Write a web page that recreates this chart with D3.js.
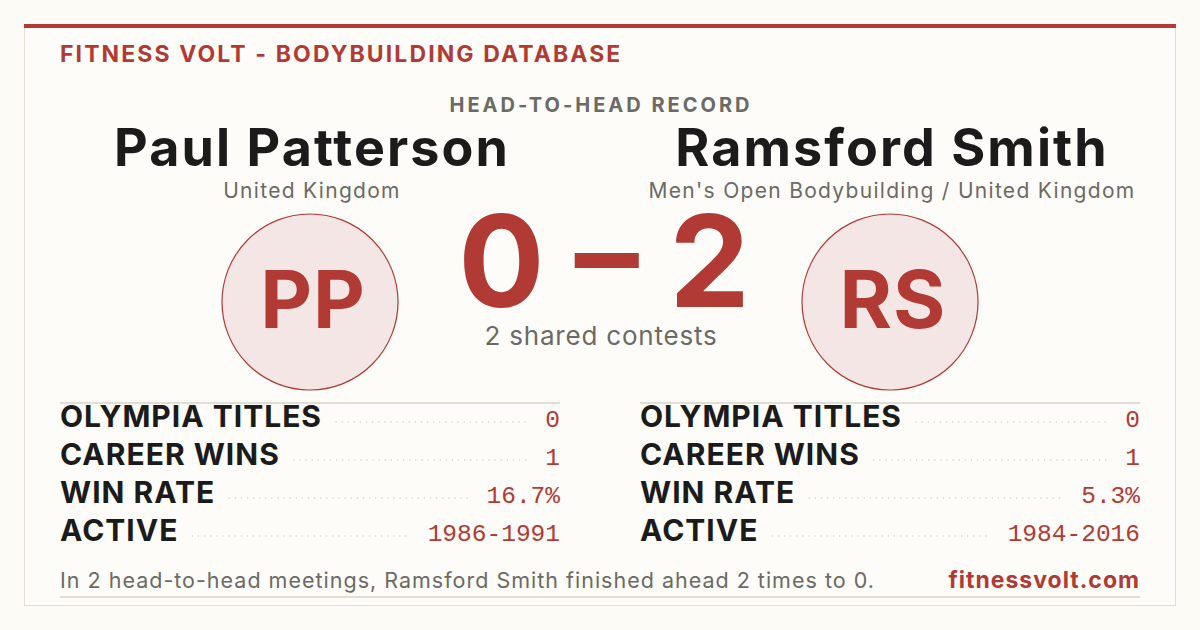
<!DOCTYPE html>
<html>
<head>
<meta charset="utf-8">
<script src="https://cdn.jsdelivr.net/npm/d3@7"></script>
<style>
  html, body { margin: 0; padding: 0; background: #fcfbf6; }
  svg { display: block; }
</style>
</head>
<body>
<div id="card"></div>
<script>
// ---- data ----
const players      = ["Paul Patterson", "Ramsford Smith"]
const initials     = ["PP", "RS"]
const subtitles    = ["United Kingdom", "Men's Open Bodybuilding / United Kingdom"]
const score        = [0, 2]
const sharedCount  = 2
const statLabels   = ["OLYMPIA TITLES", "CAREER WINS", "WIN RATE", "ACTIVE"]
const statsLeft    = ["0", "1", "16.7%", "1986-1991"]
const statsRight   = ["0", "1", "5.3%", "1984-2016"]
const footerText   = "In 2 head-to-head meetings, Ramsford Smith finished ahead 2 times to 0."

function headToHead({
    element,
    width = 1200,
    height = 630,
    red = "#b23a35",
    ink = "#1b1b1b",
    grey = "#6b6a65",
    rule = "#e3ded4",
    sans = "Inter, 'DejaVu Sans', sans-serif",
    mono = "'Liberation Mono', 'DejaVu Sans Mono', monospace"
}) {

    const svg = d3.select(`#${element}`)
        .html(null)
        .append("svg")
        .attr("width", width)
        .attr("height", height)

    svg.append("rect")
        .attr("width", width).attr("height", height)
        .attr("fill", "#fcfbf6")

    // card frame
    svg.append("rect")
        .attr("x", 24.5).attr("y", 24.5)
        .attr("width", 1151).attr("height", 581)
        .attr("fill", "#fdfcf8")
        .attr("stroke", rule)
    svg.append("rect")
        .attr("x", 24).attr("y", 24)
        .attr("width", 1152).attr("height", 4)
        .attr("fill", red)

    svg.append("text")
        .attr("x", 60).attr("y", 62)
        .attr("font-family", sans).attr("font-weight", 700)
        .attr("font-size", 23).attr("letter-spacing", 2.1)
        .attr("fill", red)
        .text("FITNESS VOLT - BODYBUILDING DATABASE")

    svg.append("text")
        .attr("x", 601).attr("y", 112)
        .attr("text-anchor", "middle")
        .attr("font-family", sans).attr("font-weight", 700)
        .attr("font-size", 20).attr("letter-spacing", 3)
        .attr("fill", grey)
        .text("HEAD-TO-HEAD RECORD")

    // two sides: left and right column centers
    const side = d3.scalePoint()
        .domain([0, 1])
        .range([312, 892])

    const names = svg.append("g")
        .selectAll("g")
        .data(players)
        .join("g")
        .attr("transform", (d, i) => `translate(${side(i)},0)`)
        .attr("text-anchor", "middle")
        .attr("font-family", sans)

    names.append("text")
        .attr("y", 165.5)
        .attr("font-weight", 700)
        .attr("font-size", 52)
        .attr("letter-spacing", 2.1)
        .attr("fill", ink)
        .text(d => d)

    names.append("text")
        .attr("y", 198)
        .attr("font-size", 21)
        .attr("letter-spacing", 1.3)
        .attr("fill", grey)
        .text((d, i) => subtitles[i])

    // avatar circles
    const avatarX = d3.scalePoint().domain([0, 1]).range([310, 890])
    const avatar = svg.append("g")
        .selectAll("g")
        .data(initials)
        .join("g")
        .attr("transform", (d, i) => `translate(${avatarX(i)},302)`)

    avatar.append("circle")
        .attr("r", 88)
        .attr("fill", "#f3e6e5")
        .attr("stroke", red)
        .attr("stroke-width", 1.2)

    avatar.append("text")
        .attr("x", 3)
        .attr("y", 26)
        .attr("text-anchor", "middle")
        .attr("font-family", sans).attr("font-weight", 700)
        .attr("font-size", 80)
        .attr("letter-spacing", 1)
        .attr("fill", red)
        .text(d => d)

    // score
    svg.append("text")
        .attr("x", 604).attr("y", 307)
        .attr("text-anchor", "middle")
        .attr("font-family", sans).attr("font-weight", 700)
        .attr("font-size", 128)
        .attr("fill", red)
        .text(`${score[0]} \u2013 ${score[1]}`)

    svg.append("text")
        .attr("x", 601).attr("y", 345)
        .attr("text-anchor", "middle")
        .attr("font-family", sans)
        .attr("font-size", 26)
        .attr("letter-spacing", 0.8)
        .attr("fill", grey)
        .text(`${sharedCount} shared contests`)

    // stat tables
    const row = d3.scaleBand()
        .domain(statLabels)
        .range([404, 556])

    const panels = [
        { x0: 60, x1: 560, values: statsLeft },
        { x0: 640, x1: 1140, values: statsRight }
    ]

    panels.forEach(p => {
        const g = svg.append("g")

        g.append("line")
            .attr("x1", p.x0).attr("x2", p.x1)
            .attr("y1", 403).attr("y2", 403)
            .attr("stroke", rule).attr("stroke-width", 2)

        const rows = g.selectAll("g")
            .data(statLabels)
            .join("g")
            .attr("transform", d => `translate(0,${row(d) + 23})`)

        const labels = rows.append("text")
            .attr("x", p.x0)
            .attr("font-family", sans).attr("font-weight", 700)
            .attr("font-size", 30).attr("letter-spacing", 1)
            .attr("fill", ink)
            .text(d => d)

        const vals = rows.append("text")
            .attr("x", p.x1)
            .attr("text-anchor", "end")
            .attr("font-family", mono)
            .attr("font-size", 24.5)
            .style("font-feature-settings", "'zero' 1")
            .attr("fill", red)
            .text((d, i) => p.values[i])

        // dotted leaders between label and value
        rows.each(function (d, i) {
            const lw = labels.nodes()[i].getComputedTextLength()
            const vw = vals.nodes()[i].getComputedTextLength()
            d3.select(this).insert("line", "text")
                .attr("x1", p.x0 + lw + 14)
                .attr("x2", p.x1 - vw - 18)
                .attr("y1", -5).attr("y2", -5)
                .attr("stroke", "#d2cec6")
                .attr("stroke-width", 1.3)
                .attr("stroke-linecap", "round")
                .attr("stroke-dasharray", "0.1 6")
        })
    })

    // footer
    svg.append("text")
        .attr("x", 60).attr("y", 588)
        .attr("font-family", sans)
        .attr("font-size", 21.5)
        .attr("letter-spacing", 1)
        .attr("fill", grey)
        .text(footerText)

    svg.append("text")
        .attr("x", 1140).attr("y", 588)
        .attr("text-anchor", "end")
        .attr("font-family", sans).attr("font-weight", 700)
        .attr("font-size", 23)
        .attr("letter-spacing", 1)
        .attr("fill", red)
        .text("fitnessvolt.com")

    svg.append("line")
        .attr("x1", 60).attr("x2", 1140)
        .attr("y1", 597).attr("y2", 597)
        .attr("stroke", rule).attr("stroke-width", 2)

    return svg.node()
}

headToHead({ element: "card" })
</script>
</body>
</html>
